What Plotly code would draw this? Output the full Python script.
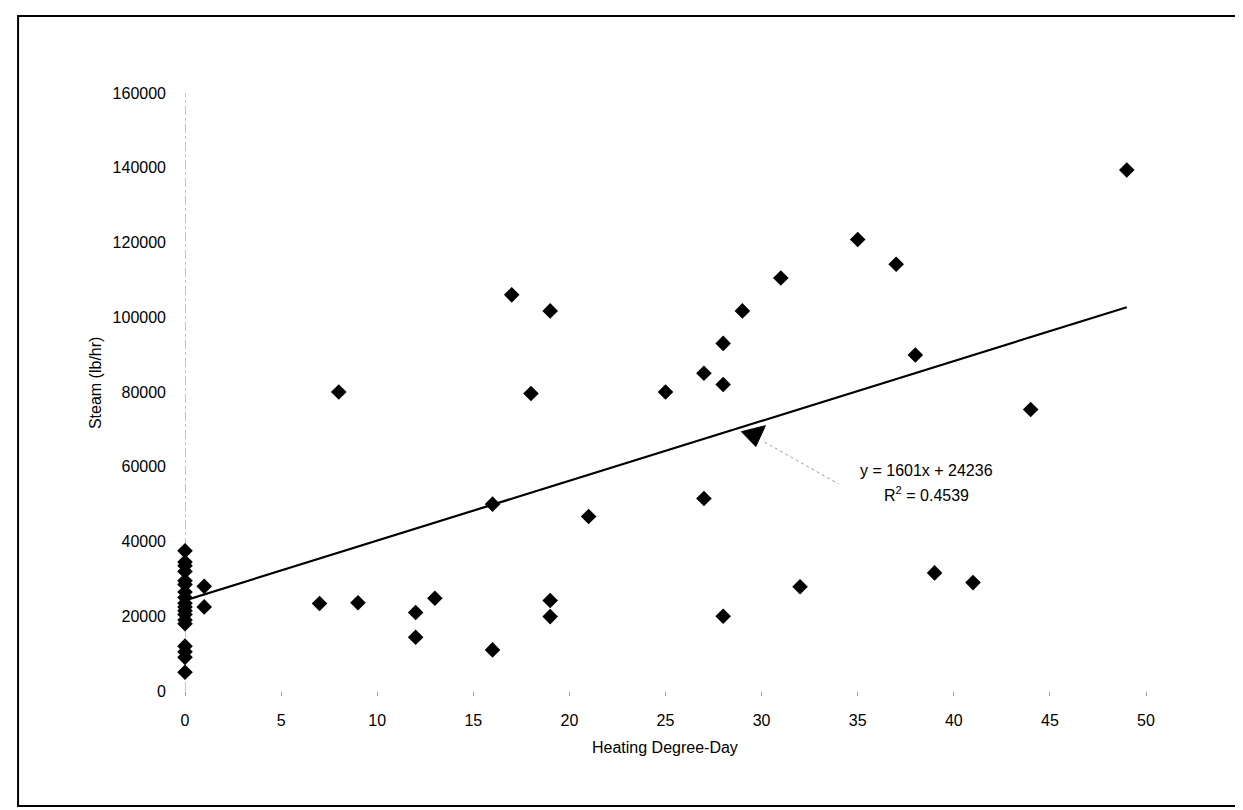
import plotly.graph_objects as go

# ---- data ----
hdd = [0, 0, 0, 0, 0, 0, 0, 0, 0, 0, 0, 0, 0, 0, 0, 0, 0, 0,
       1, 1, 7, 8, 9, 12, 12, 13, 16, 16, 17, 18, 19, 19, 19, 21,
       25, 27, 27, 28, 28, 28, 29, 31, 32, 35, 37, 38, 39, 41, 44, 49]
steam = [37500, 34500, 33500, 32000, 29500, 28500, 26500, 25000, 23500,
         22500, 21500, 20500, 19000, 18000, 12000, 10500, 9000, 5000,
         28000, 22500, 23400, 80000, 23600, 21000, 14400, 24800, 50000,
         11000, 106000, 79600, 101700, 24200, 19900, 46700,
         80000, 85000, 51500, 93000, 82000, 20000, 101700, 110500, 27900,
         120800, 114200, 89900, 31600, 29000, 75300, 139400]

slope = 1601
intercept = 24236
r_squared = 0.4539

x_ticks = [0, 5, 10, 15, 20, 25, 30, 35, 40, 45, 50]
y_ticks = [0, 20000, 40000, 60000, 80000, 100000, 120000, 140000, 160000]

FONT = "Liberation Sans, Arial, Helvetica, sans-serif"
FS = 16

def trend(x):
    return slope * x + intercept

x_end = max(hdd)

fig = go.Figure()

fig.add_trace(go.Scatter(
    x=hdd, y=steam, mode="markers",
    marker=dict(symbol="diamond", size=12, color="black"),
    cliponaxis=False, showlegend=False,
))

fig.add_trace(go.Scatter(
    x=[0, x_end], y=[trend(0), trend(x_end)], mode="lines",
    line=dict(color="black", width=2.2), showlegend=False, cliponaxis=False,
))

shapes = []
# dashed y-axis line at x = 0
shapes.append(dict(type="line", xref="x", yref="y", x0=0, x1=0, y0=0, y1=160000,
                   line=dict(color="#8a8a8a", width=1, dash="dashdot"), layer="below"))
# outer frame
shapes.append(dict(type="rect", xref="paper", yref="paper",
                   x0=-0.1737, x1=1.1014, y0=-0.1923, y1=1.1288,
                   line=dict(color="black", width=2)))

# arrow from label to the trendline
ax_ = 29.6
p1 = (ax_ - 0.65, trend(ax_ - 0.65) - 1200)
p2 = (ax_ + 0.6, trend(ax_ + 0.6) - 1600)
p3 = (ax_ + 0.1, trend(ax_) - 6200)
shapes.append(dict(type="path", xref="x", yref="y",
                   path=f"M {p1[0]},{p1[1]} L {p2[0]},{p2[1]} L {p3[0]},{p3[1]} Z",
                   fillcolor="black", line=dict(color="black", width=1)))
shapes.append(dict(type="line", xref="x", yref="y",
                   x0=ax_ + 0.55, y0=trend(ax_) - 5000, x1=34.0, y1=55400,
                   line=dict(color="#9a9a9a", width=1, dash="dot")))

annotations = [
    dict(x=38.6, y=59100, xref="x", yref="y", showarrow=False,
         text=f"y = {slope}x + {intercept}", font=dict(family=FONT, size=FS, color="black")),
    dict(x=38.6, y=52800, xref="x", yref="y", showarrow=False,
         text=f"R<sup>2</sup> = {r_squared}", font=dict(family=FONT, size=FS, color="black")),
    dict(x=0.4992, y=-0.0953, xref="paper", yref="paper", showarrow=False,
         text="Heating Degree-Day", font=dict(family=FONT, size=FS, color="black"),
         xanchor="center", yanchor="middle"),
    dict(x=-0.0936, y=0.515, xref="paper", yref="paper", showarrow=False,
         text="Steam (lb/hr)", textangle=-90, font=dict(family=FONT, size=FS, color="black"),
         xanchor="center", yanchor="middle"),
]

fig.update_layout(
    width=1243, height=810,
    margin=dict(l=177, r=104.5, t=85, b=127, pad=0),
    paper_bgcolor="white", plot_bgcolor="white",
    font=dict(family=FONT, size=FS, color="black"),
    shapes=shapes, annotations=annotations,
    showlegend=False,
)
fig.update_xaxes(range=[0, 50], tickvals=x_ticks, ticktext=[str(v) for v in x_ticks],
                 showgrid=False, zeroline=False, showline=False,
                 ticks="outside", ticklen=4, tickcolor="#9a9a9a", tickwidth=1,
                 ticklabelstandoff=11, tickfont=dict(family=FONT, size=FS, color="black"))
fig.update_yaxes(range=[0, 160000], tickvals=y_ticks, ticktext=[str(v) for v in y_ticks],
                 showgrid=False, zeroline=False, showline=False, ticks="",
                 ticklabelstandoff=18, tickfont=dict(family=FONT, size=FS, color="black"))

fig.write_html("out.html")
